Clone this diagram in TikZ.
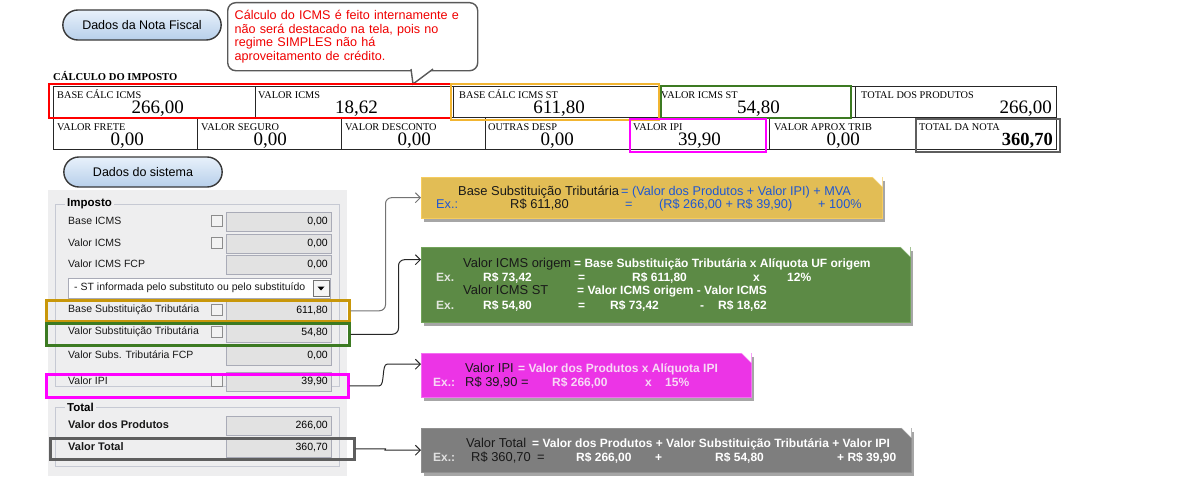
\documentclass[tikz,border=0pt]{standalone}
\usepackage{fontspec}
\setmainfont{Liberation Sans}
\newfontfamily\nfFont{Liberation Serif}
\usepackage{tikz}
\usetikzlibrary{shapes.misc, arrows.meta, shadows, calc}

\definecolor{pillTop}{HTML}{E8F1FB}
\definecolor{pillBot}{HTML}{B7CFEA}
\definecolor{noteRed}{HTML}{F00000}
\definecolor{hlRed}{HTML}{FF0000}
\definecolor{hlGold}{HTML}{F2B531}
\definecolor{hlOchre}{HTML}{C8970A}
\definecolor{hlGreen}{HTML}{3C7A22}
\definecolor{hlPink}{HTML}{FF00FF}
\definecolor{hlGray}{HTML}{5E5E5E}
\definecolor{panelBg}{HTML}{EEEEEF}
\definecolor{frameLine}{HTML}{C6C9D3}
\definecolor{fieldFill}{HTML}{E2E2E2}
\definecolor{fieldLine}{HTML}{A9ABB7}
\definecolor{yFill}{HTML}{E2BD55}
\definecolor{yEdge}{HTML}{F6CC5E}
\definecolor{yText}{HTML}{1F57D2}
\definecolor{gFill}{HTML}{5C8A45}
\definecolor{gEdge}{HTML}{72A35A}
\definecolor{mFill}{HTML}{EC34E6}
\definecolor{mEdge}{HTML}{F46EF2}
\definecolor{mText}{HTML}{F8D8F6}
\definecolor{tFill}{HTML}{7E7E7E}
\definecolor{tEdge}{HTML}{909090}
\definecolor{softWhite}{HTML}{E2E6DE}

\begin{document}
\begin{tikzpicture}[x=1pt, y=-1pt]
	\tikzstyle{pill} = [rounded rectangle, draw=black!78, line width=1.4pt, 
	top color=pillTop, bottom color=pillBot, minimum width=165pt, 
	minimum height=30pt, font=\fontsize{12.5}{14}\selectfont]
	\tikzstyle{cell} = [rectangle, draw=black!85, line width=1.4pt, 
	anchor=north west, inner sep=0pt]
	\tikzstyle{cellHead} = [anchor=base west, inner sep=0pt, 
	font=\nfFont\fontsize{10.3}{11}\selectfont]
	\tikzstyle{cellValue} = [anchor=base east, inner sep=0pt, 
	font=\nfFont\fontsize{19}{20}\selectfont]
	\tikzstyle{hilite} = [rectangle, anchor=north west, line width=2.5pt, inner sep=0pt]
	\tikzstyle{field} = [rectangle, anchor=north west, draw=fieldLine, fill=fieldFill, 
	minimum width=105pt, minimum height=19pt, text width=98pt, inner xsep=3.5pt, 
	inner ysep=0pt, align=right, font=\fontsize{10.5}{12}\selectfont]
	\tikzstyle{chkbox} = [rectangle, draw=black!45, fill=black!5, minimum size=11pt, inner sep=0pt]
	\tikzstyle{plabel} = [anchor=west, inner sep=0pt, font=\fontsize{10.5}{12}\selectfont, text=black!90]
	\tikzstyle{frameTitle} = [anchor=west, fill=panelBg, inner xsep=2pt, inner ysep=1pt, 
	font=\bfseries\fontsize{11.5}{12}\selectfont]
	\tikzstyle{noteBox} = [rectangle, anchor=north west, inner sep=0pt, 
	drop shadow={shadow xshift=3pt, shadow yshift=-4pt, fill=black!35, opacity=1}]
	\tikzstyle{txtDark} = [anchor=base west, inner sep=0pt, font=\fontsize{12.9}{14}\selectfont, text=black!90]
	\tikzstyle{txtBlue} = [anchor=base west, inner sep=0pt, font=\fontsize{12.7}{14}\selectfont, text=yText]
	\tikzstyle{txtLight} = [anchor=base west, inner sep=0pt, font=\bfseries\fontsize{12}{14}\selectfont, text=white]
	\tikzstyle{link} = [line width=1pt, draw=black!85, rounded corners=6pt, 
	-{Straight Barb[length=5pt, width=10pt]}]
	\useasboundingbox (0,0) rectangle (1190,495);

	% titles
	\node[pill] (nfPill) at (142,25) {Dados da Nota Fiscal};
	\node[pill] (sysPill) at (143,172) {Dados do sistema};

	% remark
	\node[rectangle, rounded corners=8pt, draw=black!65, line width=1.4pt, fill=white, 
	anchor=north west, minimum width=250pt, minimum height=68pt, text width=236pt, 
	inner xsep=7pt, align=left, text=noteRed, font=\fontsize{12.6}{13.8}\selectfont] 
	(remark) at (227,2) {Cálculo do ICMS é feito internamente e\\ não será destacado na tela, pois no\\ regime SIMPLES não há\\ aproveitamento de crédito.};
	\draw[draw=black!65, line width=1.4pt, fill=white] (411,69) -- (413,84) -- (433,69);

	% invoice table
	\node[anchor=base west, inner sep=0pt, font=\nfFont\bfseries\fontsize{10.6}{12}\selectfont] 
	(calcTitle) at (53,81) {CÁLCULO DO IMPOSTO};
	\node[cell, minimum width=202pt, minimum height=31pt] (bcIcms) at (53,86) {};
	\node[cell, minimum width=198pt, minimum height=31pt] (vIcms) at (255,86) {};
	\node[cell, minimum width=205pt, minimum height=31pt] (bcSt) at (453,86) {};
	\node[cell, minimum width=197pt, minimum height=31pt] (vSt) at (658,86) {};
	\node[cell, minimum width=201pt, minimum height=31pt] (totProd) at (855,86) {};
	\node[cell, minimum width=144pt, minimum height=32pt] (vFrete) at (53,117) {};
	\node[cell, minimum width=144pt, minimum height=32pt] (vSeguro) at (197,117) {};
	\node[cell, minimum width=144pt, minimum height=32pt] (vDesc) at (341,117) {};
	\node[cell, minimum width=144pt, minimum height=32pt] (outDesp) at (485,117) {};
	\node[cell, minimum width=140pt, minimum height=32pt] (vIpi) at (629,117) {};
	\node[cell, minimum width=146pt, minimum height=32pt] (vAprox) at (769,117) {};
	\node[cell, minimum width=141pt, minimum height=32pt] (totNota) at (915,117) {};

	\node[cellHead] (hBcIcms) at (57,98) {BASE CÁLC ICMS};
	\node[cellHead] (hVIcms) at (258,98) {VALOR ICMS};
	\node[cellHead] (hBcSt) at (459,98) {BASE CÁLC ICMS ST};
	\node[cellHead] (hVSt) at (661,98) {VALOR ICMS ST};
	\node[cellHead] (hTotProd) at (861,98) {TOTAL DOS PRODUTOS};
	\node[cellHead] (hFrete) at (57,130) {VALOR FRETE};
	\node[cellHead] (hSeguro) at (201,130) {VALOR SEGURO};
	\node[cellHead] (hDesc) at (345,130) {VALOR DESCONTO};
	\node[cellHead] (hOutDesp) at (488,130) {OUTRAS DESP};
	\node[cellHead] (hIpi) at (633,130) {VALOR IPI};
	\node[cellHead] (hAprox) at (774,130) {VALOR APROX TRIB};
	\node[cellHead] (hTotNota) at (919,130) {TOTAL DA NOTA};

	\node[cellValue] (nBcIcms) at (184,113) {266,00};
	\node[cellValue] (nVIcms) at (378,113) {18,62};
	\node[cellValue] (nBcSt) at (585,113) {611,80};
	\node[cellValue] (nVSt) at (780,113) {54,80};
	\node[cellValue] (nTotProd) at (1052,113) {266,00};
	\node[cellValue] (nFrete) at (144,145) {0,00};
	\node[cellValue] (nSeguro) at (287,145) {0,00};
	\node[cellValue] (nDesc) at (431,145) {0,00};
	\node[cellValue] (nOutDesp) at (574,145) {0,00};
	\node[cellValue] (nIpi) at (721,145) {39,90};
	\node[cellValue] (nAprox) at (860,145) {0,00};
	\node[cellValue, font=\nfFont\bfseries\fontsize{18.5}{20}\selectfont] (nTotNota) at (1053,145) {360,70};

	\draw[hlRed, line width=2.5pt] (49,84) rectangle (451,118);
	\draw[hlGold, line width=2.5pt] (451,84) rectangle (659,120);
	\draw[hlGreen, line width=2pt] (661,86) rectangle (851,118);
	\draw[hlPink, line width=2pt] (630,119) rectangle (766,152);
	\draw[hlGray, line width=2.5pt] (916,119) rectangle (1060,152);

	% system panel
	\fill[panelBg] (48,190) rectangle (347,476);
	\draw[frameLine] (55,204) rectangle (339,386);
	\node[frameTitle] (lgImp) at (65,204) {Imposto};
	\draw[frameLine] (55,407) rectangle (339,466);
	\node[frameTitle] (lgTot) at (65,407) {Total};

	\node[plabel] (lBase) at (68,221) {Base ICMS};
	\node[chkbox] (cbBase) at (216.5,221) {};
	\node[field] (fBase) at (226,211.5) {0,00};
	\node[plabel] (lVicms) at (68,243) {Valor ICMS};
	\node[chkbox] (cbVicms) at (216.5,243) {};
	\node[field] (fVicms) at (226,233.5) {0,00};
	\node[plabel] (lFcp) at (68,264) {Valor ICMS FCP};
	\node[field] (fFcp) at (226,254.5) {0,00};

	\node[rectangle, draw=fieldLine, fill=white, anchor=north west, minimum width=262pt, 
	minimum height=20pt, inner sep=0pt] (stCombo) at (68,278) {};
	\node[plabel] (stText) at (74,288) {- ST informada pelo substituto ou pelo substituído};
	\node[rectangle, draw=black!55, fill=black!4, minimum width=16pt, minimum height=16pt, 
	inner sep=0pt] (stBtn) at (321,288) {};
	\fill ($(stBtn.center)+(-3.5,-1.5)$) -- ++(7,0) -- ++(-3.5,4) -- cycle;

	\node[plabel] (lBst) at (68,310) {Base Substituição Tributária};
	\node[chkbox] (cbBst) at (216.5,310) {};
	\node[field] (fBst) at (226,300.5) {611,80};
	\node[plabel] (lVst) at (68,332) {Valor Substituição Tributária};
	\node[chkbox] (cbVst) at (216.5,332) {};
	\node[field] (fVst) at (226,322.5) {54,80};
	\node[plabel] (lSfcp) at (68,355) {Valor Subs. Tributária FCP};
	\node[field] (fSfcp) at (226,345.5) {0,00};
	\node[plabel] (lIpi) at (68,381) {Valor IPI};
	\node[chkbox] (cbIpi) at (216.5,381) {};
	\node[field] (fIpi) at (226,371.5) {39,90};

	\node[plabel, font=\bfseries\fontsize{11}{12}\selectfont] (lProd) at (68,425) {Valor dos Produtos};
	\node[field] (fProd) at (226,415.5) {266,00};
	\node[plabel, font=\bfseries\fontsize{11}{12}\selectfont] (lTot) at (68,447) {Valor Total};
	\node[field] (fTot) at (226,437.5) {360,70};

	\node[hilite, draw=hlOchre, minimum width=303pt, minimum height=21pt] (hlBase) at (45,299) {};
	\node[hilite, draw=hlGreen, minimum width=303pt, minimum height=22pt] (hlVst) at (45,322) {};
	\node[hilite, draw=hlPink, minimum width=302pt, minimum height=23pt] (hlIpi) at (45,373) {};
	\node[hilite, draw=hlGray, minimum width=304pt, minimum height=21pt] (hlTot) at (49,437) {};

	% formula notes
	\node[noteBox, fill=yFill, draw=yEdge, minimum width=461pt, minimum height=41pt] (yBox) at (421,177) {};
	\fill[white] (yBox.north east) -- ++(-10,0) -- ++(10,10) -- cycle;
	\draw[yEdge] ($(yBox.north east)+(-10,0)$) -- ($(yBox.north east)+(0,10)$);
	\node[noteBox, fill=gFill, draw=gEdge, minimum width=489pt, minimum height=75pt] (gBox) at (421,247) {};
	\fill[white] (gBox.north east) -- ++(-10,0) -- ++(10,10) -- cycle;
	\draw[gEdge] ($(gBox.north east)+(-10,0)$) -- ($(gBox.north east)+(0,10)$);
	\node[noteBox, fill=mFill, draw=mEdge, minimum width=330pt, minimum height=44pt] (mBox) at (421,353) {};
	\fill[white] (mBox.north east) -- ++(-10,0) -- ++(10,10) -- cycle;
	\draw[mEdge] ($(mBox.north east)+(-10,0)$) -- ($(mBox.north east)+(0,10)$);
	\node[noteBox, fill=tFill, draw=tEdge, minimum width=490pt, minimum height=44pt] (tBox) at (421,428) {};
	\fill[white] (tBox.north east) -- ++(-10,0) -- ++(10,10) -- cycle;
	\draw[tEdge] ($(tBox.north east)+(-10,0)$) -- ($(tBox.north east)+(0,10)$);

	\node[txtDark] (y1a) at (458,195) {Base Substituição Tributária};
	\node[txtBlue] (y1b) at (621,195) {= (Valor dos Produtos + Valor IPI) + MVA};
	\node[txtBlue] (y2a) at (436,208) {Ex.:};
	\node[txtDark] (y2b) at (510,208) {R\$ 611,80};
	\node[txtBlue] (y2c) at (625,208) {=};
	\node[txtBlue] (y2d) at (659,208) {(R\$ 266,00 + R\$ 39,90)};
	\node[txtBlue] (y2e) at (818,208) {+ 100\%};

	\node[txtDark] (g1a) at (463,267) {Valor ICMS origem};
	\node[txtLight] (g1b) at (574,267) {= Base Substituição Tributária x Alíquota UF origem};
	\node[txtLight, text=softWhite] (g2a) at (436,281) {Ex.};
	\node[txtLight] (g2b) at (483,281) {R\$ 73,42};
	\node[txtLight] (g2c) at (578,281) {=};
	\node[txtLight] (g2d) at (632,281) {R\$ 611,80};
	\node[txtLight] (g2e) at (753,281) {x};
	\node[txtLight] (g2f) at (787,281) {12\%};
	\node[txtDark] (g3a) at (463,294) {Valor ICMS ST};
	\node[txtLight] (g3b) at (577,294) {= Valor ICMS origem - Valor ICMS};
	\node[txtLight, text=softWhite] (g4a) at (436,309) {Ex.};
	\node[txtLight] (g4b) at (483,309) {R\$ 54,80};
	\node[txtLight] (g4c) at (578,309) {=};
	\node[txtLight] (g4d) at (610,309) {R\$ 73,42};
	\node[txtLight] (g4e) at (700,309) {-};
	\node[txtLight] (g4f) at (718,309) {R\$ 18,62};

	\node[txtDark] (m1a) at (465,372) {Valor IPI};
	\node[txtLight, text=mText] (m1b) at (518,372) {= Valor dos Produtos x Alíquota IPI};
	\node[txtLight, text=mText] (m2a) at (433,386) {Ex.:};
	\node[txtDark] (m2b) at (465,386) {R\$ 39,90 =};
	\node[txtLight, text=mText] (m2c) at (552,386) {R\$ 266,00};
	\node[txtLight, text=mText] (m2d) at (645,386) {x};
	\node[txtLight, text=mText] (m2e) at (665,386) {15\%};

	\node[txtDark] (t1a) at (466,447) {Valor Total};
	\node[txtLight] (t1b) at (532,447) {= Valor dos Produtos + Valor Substituição Tributária + Valor IPI};
	\node[txtLight, text=black!12] (t2a) at (433,461) {Ex.:};
	\node[txtDark] (t2b) at (471,461) {R\$ 360,70};
	\node[txtDark] (t2c) at (537,461) {=};
	\node[txtLight] (t2d) at (576,461) {R\$ 266,00};
	\node[txtLight] (t2e) at (655,461) {+};
	\node[txtLight] (t2f) at (715,461) {R\$ 54,80};
	\node[txtLight] (t2g) at (837,461) {+ R\$ 39,90};

	% links
	\draw[link, draw=black!55] (hlBase.east) -- ++(35,0) |- (yBox.west);
	\draw[link] (hlVst.east) -- ++(48,0) |- ($(gBox.west)+(0,-25)$);
	\draw[link] (hlIpi.east) -- ++(24,0) to[out=0,in=180] ($(mBox.west)+(-28,-11)$) -- ($(mBox.west)+(0,-11)$);
	\draw[link] (hlTot.east) -- ++(24,0) to[out=0,in=180] ($(tBox.west)+(-30,0)$) -- (tBox.west);
\end{tikzpicture}
\end{document}
